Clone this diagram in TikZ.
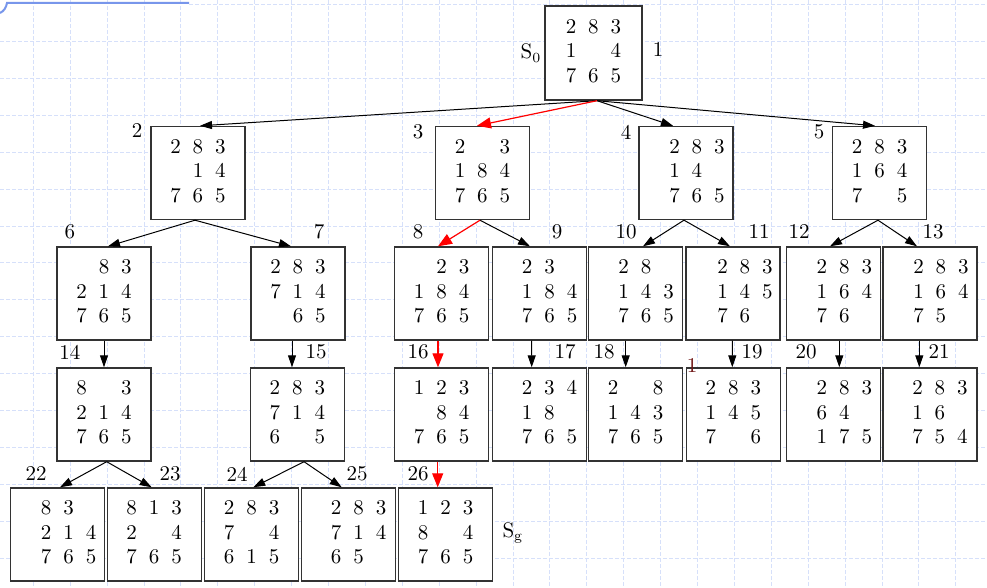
\documentclass[tikz,border=0pt]{standalone}
\usetikzlibrary{arrows.meta}
\newcommand{\pz}[4][0pt]{\hspace*{#1}{\setlength{\tabcolsep}{3pt}\begin{tabular}{ccc}#2\\#3\\#4\end{tabular}}}
\begin{document}
\begin{tikzpicture}[x=0.5pt,y=-0.5pt,
  puz/.style={draw=black!80,line width=0.7pt,fill=white,minimum width=47pt,minimum height=46.5pt,inner sep=0pt,font=\fontsize{10.5}{12.25}\selectfont},
  lab/.style={inner sep=0pt,font=\fontsize{10.5}{12}\selectfont},
  arr/.style={-{Triangle[length=6pt,width=4pt]},line width=0.5pt},
  redarr/.style={-{Triangle[length=7pt,width=5.5pt]},line width=0.6pt,red},
  gridline/.style={line width=0.5pt,color={rgb,255:red,214;green,224;blue,250},dash pattern=on 2pt off 1pt}]
\useasboundingbox (0,0) rectangle (987,588);

% Grid paper
\foreach \i in {0,...,27}
  \draw[gridline] ({-3.6+36.9*\i},0) -- ({-3.6+36.9*\i},588);
\foreach \j in {0,...,15}
  \draw[gridline] (189,{4.7+36.9*\j}) -- (987,{4.7+36.9*\j});
\foreach \j in {1,...,15}
  \draw[gridline] (0,{4.7+36.9*\j}) -- (189,{4.7+36.9*\j});
\draw[line width=1pt,color={rgb,255:red,120;green,150;blue,235}] (189,3) -- (7,3) .. controls (6,8) and (4,11) .. (0,13);

% Root
\node[puz,minimum width=48.5pt,minimum height=47pt] (n1) at (593.5,53) {\pz{2&8&3}{1&&4}{7&6&5}};

% Level 1
\node[puz] (n2) at (198,173) {\pz{2&8&3}{&1&4}{7&6&5}};
\node[puz] (n3) at (482.5,173) {\pz{2&&3}{1&8&4}{7&6&5}};
\node[puz] (n4) at (686,173) {\pz[11pt]{2&8&3}{1&4&}{7&6&5}};
\node[puz] (n5) at (879.7,173) {\pz{2&8&3}{1&6&4}{7&&5}};

% Level 2
\node[puz] (n6) at (104,293.5) {\pz{&8&3}{2&1&4}{7&6&5}};
\node[puz] (n7) at (298,293.5) {\pz{2&8&3}{7&1&4}{&6&5}};
\node[puz] (n8) at (441.7,293.5) {\pz{&2&3}{1&8&4}{7&6&5}};
\node[puz] (n9) at (539.7,293.5) {\pz[10pt]{2&3&}{1&8&4}{7&6&5}};
\node[puz] (n10) at (635.2,293.5) {\pz[11pt]{2&8&}{1&4&3}{7&6&5}};
\node[puz] (n11) at (733,293.5) {\pz[12pt]{2&8&3}{1&4&5}{7&6&}};
\node[puz] (n12) at (833.3,293.5) {\pz[11pt]{2&8&3}{1&6&4}{7&6&}};
\node[puz] (n13) at (930,293.5) {\pz[11pt]{2&8&3}{1&6&4}{7&5&}};

% Level 3
\node[puz] (n14) at (104,414.5) {\pz{8&&3}{2&1&4}{7&6&5}};
\node[puz] (n15) at (297.3,414.5) {\pz{2&8&3}{7&1&4}{6&&5}};
\node[puz] (n16) at (441.7,414.5) {\pz{1&2&3}{&8&4}{7&6&5}};
\node[puz] (n17) at (539.5,414.5) {\pz[10pt]{2&3&4}{1&8&}{7&6&5}};
\node[puz] (n18) at (635.7,414.5) {\pz{2&&8}{1&4&3}{7&6&5}};
\node[puz] (n19) at (733.3,414.5) {\pz{2&8&3}{1&4&5}{7&&6}};
\node[puz] (n20) at (833.3,414.5) {\pz[11pt]{2&8&3}{6&4&}{1&7&5}};
\node[puz] (n21) at (930,414.5) {\pz[10pt]{2&8&3}{1&6&}{7&5&4}};

% Level 4
\node[puz] (n22) at (57.7,534.5) {\pz[11pt]{8&3&}{2&1&4}{7&6&5}};
\node[puz] (n23) at (154.2,534.5) {\pz{8&1&3}{2&&4}{7&6&5}};
\node[puz] (n24) at (251.7,534.5) {\pz{2&8&3}{7&&4}{6&1&5}};
\node[puz] (n25) at (348.7,534.5) {\pz[10pt]{2&8&3}{7&1&4}{6&5&}};
\node[puz] (n26) at (445.7,534.5) {\pz{1&2&3}{8&&4}{7&6&5}};

% Expansions
\foreach \a/\sa/\b/\sb in {1/3.5/2/2, 1/3.5/4/-13, 1/3.5/5/-4.7,
    2/-3/6/4, 2/-3/7/-7, 3/-2.5/9/-9.7, 4/-2/10/7.8, 4/-2/11/-3,
    5/-1.7/12/-3.3, 5/-1.7/13/-13, 6/0/14/0, 7/-6/15/-5.3, 9/-8/17/-7.8,
    10/-9.5/18/-10, 11/-0.7/19/-1, 12/6/20/6, 13/-10.7/21/-10.7,
    14/2.7/22/2.3, 14/2.7/23/-2.5, 15/6.7/24/1.6, 15/6.7/25/-7}
  \draw[arr] ([shift={(\sa,0)}]n\a.south) -- ([shift={(\sb,0)}]n\b.north);

% Solution path
\foreach \a/\sa/\b/\sb in {1/3.5/3/-5.5, 3/-2.5/8/-3.7, 8/-3.7/16/-3.7, 16/-4/26/-8}
  \draw[redarr] ([shift={(\sa,0)}]n\a.south) -- ([shift={(\sb,0)}]n\b.north);

% Order labels
\foreach \t/\x/\y in {1/658/50, 2/137/131, 3/418/132, 4/626/132, 5/819/132,
    6/70/232, 7/319/232, 8/418/232, 9/557/232, 10/626/232, 11/759/232, 12/799/232, 13/933/232,
    14/70/352, 15/316/352, 16/418/352, 17/565/352, 18/604/352, 19/752/352, 20/806/352, 21/939/352,
    22/36/474, 23/170/474, 24/237/474, 25/357/474, 26/418/474}
  \node[lab] (l\t) at (\x,\y) {\t};
\node[lab,text={rgb,255:red,110;green,20;blue,20}] (l1b) at (692,366) {1};

% Start and goal
\node[lab] (s0) at (531,53) {S$_0$};
\node[lab] (sg) at (513,533) {S$_{\mathrm{g}}$};
\end{tikzpicture}
\end{document}
